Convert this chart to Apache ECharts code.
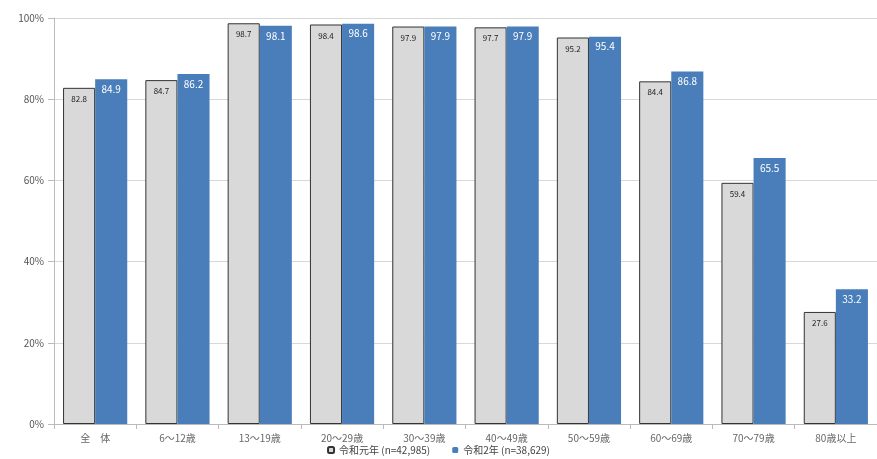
<!DOCTYPE html>
<html><head><meta charset="utf-8">
<script src="https://cdn.jsdelivr.net/npm/echarts@6/dist/echarts.min.js"></script>
<style>html,body{margin:0;padding:0;background:#fff}#c{width:877px;height:459px}</style>
</head><body><div id="c"></div>
<script>
const categories = ['全　体','6～12歳','13～19歳','20～29歳','30～39歳','40～49歳','50～59歳','60～69歳','70～79歳','80歳以上'];
const seriesNames = ['令和元年 (n=42,985)','令和2年 (n=38,629)'];
const values2019 = [82.8,84.7,98.7,98.4,97.9,97.7,95.2,84.4,59.4,27.6];
const values2020 = [84.9,86.2,98.1,98.6,97.9,97.9,95.4,86.8,65.5,33.2];
const yTicks = [0,20,40,60,80,100];

const chart = echarts.init(document.getElementById('c'));
chart.setOption({
  animation:false,
  textStyle:{fontFamily:'Noto Sans CJK JP'},
  grid:{left:54,width:826,top:18,bottom:35},
  legend:{bottom:-1,left:'center',itemWidth:6,itemHeight:6,itemGap:22,
    textStyle:{fontSize:10,color:'#444'},data:seriesNames},
  xAxis:{type:'category',data:categories,
    axisLine:{lineStyle:{color:'#bbb'}},axisTick:{show:true,lineStyle:{color:'#bbb'}},
    axisLabel:{fontSize:10,color:'#666',margin:9}},
  yAxis:{type:'value',min:0,max:100,interval:20,
    axisLine:{show:true,lineStyle:{color:'#bbb'}},
    axisTick:{show:true,length:6,lineStyle:{color:'#bbb'}},
    splitLine:{lineStyle:{color:'#d8d8d8'}},
    axisLabel:{fontSize:10,color:'#555',margin:10,formatter:v=>yTicks.includes(v)?v+'%':''}},
  series:[
    {name:seriesNames[0],type:'bar',data:values2019,barGap:'0%',barCategoryGap:'22%',
     itemStyle:{color:'#d9d9d9',borderColor:'#333',borderWidth:1},
     label:{show:true,position:'insideTop',fontSize:8,color:'#222',offset:[0,2]}},
    {name:seriesNames[1],type:'bar',data:values2020,
     itemStyle:{color:'#4a7ebb'},
     label:{show:true,position:'insideTop',fontSize:10,color:'#fff'}}
  ]
});
</script></body></html>
